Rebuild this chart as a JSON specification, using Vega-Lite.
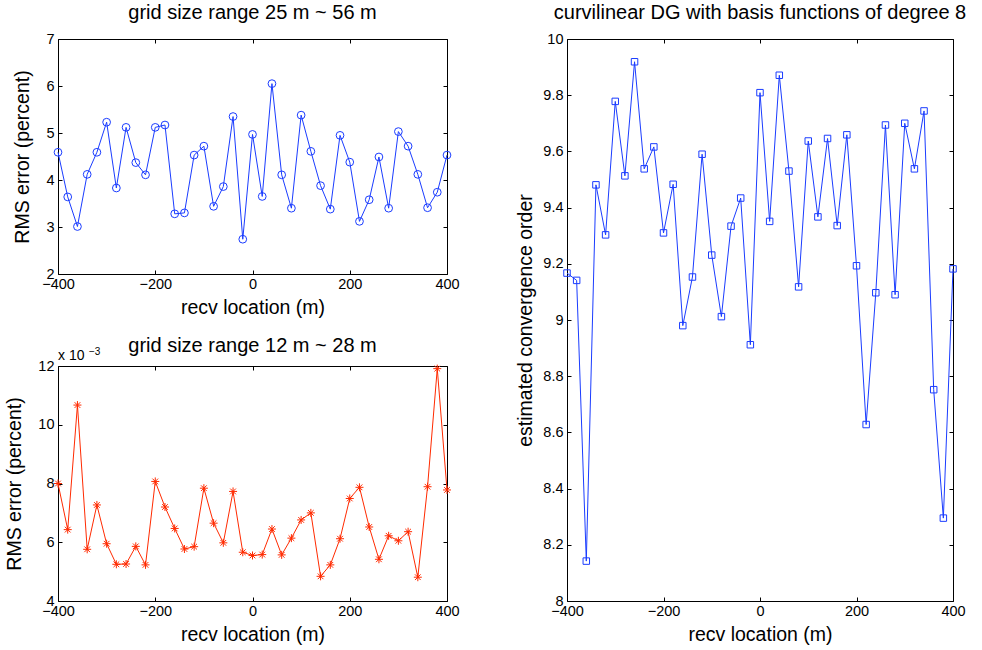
{
  "$schema": "https://vega.github.io/schema/vega-lite/v6.json",
  "autosize": {"type": "pad"},
  "padding": {"left": 4, "top": 2, "right": 5, "bottom": 5},
  "background": "white",
  "config": {
    "font": "Liberation Sans",
    "view": {"stroke": "black", "strokeWidth": 1},
    "axis": {
      "grid": false, "domain": false,
      "tickColor": "black", "tickSize": -4, "tickWidth": 1,
      "labelColor": "black", "labelFontSize": 14.5, "labelPadding": 8,
      "labelFlush": false, "labelOverlap": false,
      "titleColor": "black", "titleFontSize": 19.5, "titleFontWeight": "normal"
    },
    "title": {"fontSize": 20, "fontWeight": "normal", "color": "black", "offset": 8}
  },
  "datasets": {
    "grid25": [
      {"x": -400, "rms": 4.59}, {"x": -380, "rms": 3.64}, {"x": -360, "rms": 3.01}, {"x": -340, "rms": 4.12},
      {"x": -320, "rms": 4.59}, {"x": -300, "rms": 5.23}, {"x": -280, "rms": 3.83}, {"x": -260, "rms": 5.12},
      {"x": -240, "rms": 4.37}, {"x": -220, "rms": 4.11}, {"x": -200, "rms": 5.12}, {"x": -180, "rms": 5.17},
      {"x": -160, "rms": 3.28}, {"x": -140, "rms": 3.30}, {"x": -120, "rms": 4.53}, {"x": -100, "rms": 4.72},
      {"x": -80, "rms": 3.44}, {"x": -60, "rms": 3.86}, {"x": -40, "rms": 5.35}, {"x": -20, "rms": 2.74},
      {"x": 0, "rms": 4.97}, {"x": 20, "rms": 3.65}, {"x": 40, "rms": 6.05}, {"x": 60, "rms": 4.11},
      {"x": 80, "rms": 3.40}, {"x": 100, "rms": 5.38}, {"x": 120, "rms": 4.61}, {"x": 140, "rms": 3.88},
      {"x": 160, "rms": 3.38}, {"x": 180, "rms": 4.95}, {"x": 200, "rms": 4.38}, {"x": 220, "rms": 3.12},
      {"x": 240, "rms": 3.58}, {"x": 260, "rms": 4.49}, {"x": 280, "rms": 3.40}, {"x": 300, "rms": 5.03},
      {"x": 320, "rms": 4.72}, {"x": 340, "rms": 4.12}, {"x": 360, "rms": 3.41}, {"x": 380, "rms": 3.74},
      {"x": 400, "rms": 4.53}
    ],
    "grid12": [
      {"x": -400, "rms_e3": 8.00}, {"x": -380, "rms_e3": 6.43}, {"x": -360, "rms_e3": 10.67}, {"x": -340, "rms_e3": 5.76},
      {"x": -320, "rms_e3": 7.27}, {"x": -300, "rms_e3": 5.95}, {"x": -280, "rms_e3": 5.25}, {"x": -260, "rms_e3": 5.26},
      {"x": -240, "rms_e3": 5.86}, {"x": -220, "rms_e3": 5.23}, {"x": -200, "rms_e3": 8.07}, {"x": -180, "rms_e3": 7.20},
      {"x": -160, "rms_e3": 6.47}, {"x": -140, "rms_e3": 5.77}, {"x": -120, "rms_e3": 5.85}, {"x": -100, "rms_e3": 7.84},
      {"x": -80, "rms_e3": 6.65}, {"x": -60, "rms_e3": 5.98}, {"x": -40, "rms_e3": 7.73}, {"x": -20, "rms_e3": 5.66},
      {"x": 0, "rms_e3": 5.55}, {"x": 20, "rms_e3": 5.58}, {"x": 40, "rms_e3": 6.45}, {"x": 60, "rms_e3": 5.57},
      {"x": 80, "rms_e3": 6.14}, {"x": 100, "rms_e3": 6.76}, {"x": 120, "rms_e3": 7.00}, {"x": 140, "rms_e3": 4.84},
      {"x": 160, "rms_e3": 5.23}, {"x": 180, "rms_e3": 6.12}, {"x": 200, "rms_e3": 7.49}, {"x": 220, "rms_e3": 7.87},
      {"x": 240, "rms_e3": 6.52}, {"x": 260, "rms_e3": 5.42}, {"x": 280, "rms_e3": 6.22}, {"x": 300, "rms_e3": 6.05},
      {"x": 320, "rms_e3": 6.36}, {"x": 340, "rms_e3": 4.81}, {"x": 360, "rms_e3": 7.89}, {"x": 380, "rms_e3": 11.91},
      {"x": 400, "rms_e3": 7.78}
    ],
    "conv": [
      {"x": -400, "order": 9.167}, {"x": -380, "order": 9.141}, {"x": -360, "order": 8.142}, {"x": -340, "order": 9.481},
      {"x": -320, "order": 9.303}, {"x": -300, "order": 9.778}, {"x": -280, "order": 9.513}, {"x": -260, "order": 9.919},
      {"x": -240, "order": 9.538}, {"x": -220, "order": 9.616}, {"x": -200, "order": 9.310}, {"x": -180, "order": 9.483},
      {"x": -160, "order": 8.980}, {"x": -140, "order": 9.153}, {"x": -120, "order": 9.590}, {"x": -100, "order": 9.231},
      {"x": -80, "order": 9.012}, {"x": -60, "order": 9.334}, {"x": -40, "order": 9.434}, {"x": -20, "order": 8.912},
      {"x": 0, "order": 9.809}, {"x": 20, "order": 9.351}, {"x": 40, "order": 9.871}, {"x": 60, "order": 9.530},
      {"x": 80, "order": 9.118}, {"x": 100, "order": 9.637}, {"x": 120, "order": 9.367}, {"x": 140, "order": 9.646},
      {"x": 160, "order": 9.336}, {"x": 180, "order": 9.659}, {"x": 200, "order": 9.193}, {"x": 220, "order": 8.628},
      {"x": 240, "order": 9.097}, {"x": 260, "order": 9.694}, {"x": 280, "order": 9.090}, {"x": 300, "order": 9.700},
      {"x": 320, "order": 9.538}, {"x": 340, "order": 9.744}, {"x": 360, "order": 8.752}, {"x": 380, "order": 8.295},
      {"x": 400, "order": 9.182}
    ]
  },
  "spacing": 55,
  "hconcat": [
    {
      "bounds": "flush",
      "spacing": 92,
      "vconcat": [
        {
          "width": 389, "height": 235,
          "title": "grid size range 25 m ~ 56 m",
          "data": {"name": "grid25"},
          "layer": [
            {
              "mark": {"type": "line", "color": "#1a3cff", "strokeWidth": 1},
              "encoding": {
                "x": {"field": "x", "type": "quantitative", "scale": {"domain": [-400, 400], "nice": false},
                      "axis": {"values": [-400, -200, 0, 200, 400], "title": "recv location (m)", "labelPadding": 7, "titlePadding": 8}},
                "y": {"field": "rms", "type": "quantitative", "scale": {"domain": [2, 7], "nice": false, "zero": false},
                      "axis": {"values": [2, 3, 4, 5, 6, 7], "title": "RMS error (percent)", "titlePadding": 13}}
              }
            },
            {
              "mark": {"type": "point", "shape": "circle", "filled": false, "color": "#1a3cff", "size": 60, "strokeWidth": 1, "opacity": 1},
              "encoding": {
                "x": {"field": "x", "type": "quantitative", "axis": {"orient": "top", "values": [-400, -200, 0, 200, 400], "labels": false, "title": null}},
                "y": {"field": "rms", "type": "quantitative", "axis": {"orient": "right", "values": [2, 3, 4, 5, 6, 7], "labels": false, "title": null}}
              }
            }
          ],
          "resolve": {"axis": {"x": "independent", "y": "independent"}}
        },
        {
          "width": 389, "height": 235,
          "title": {"text": "grid size range 12 m ~ 28 m", "offset": -9},
          "data": {"name": "grid12"},
          "layer": [
            {
              "mark": {"type": "line", "color": "#ff2a00", "strokeWidth": 1},
              "encoding": {
                "x": {"field": "x", "type": "quantitative", "scale": {"domain": [-400, 400], "nice": false},
                      "axis": {"values": [-400, -200, 0, 200, 400], "title": "recv location (m)", "labelPadding": 7, "titlePadding": 8}},
                "y": {"field": "rms_e3", "type": "quantitative", "scale": {"domain": [4, 12], "nice": false, "zero": false},
                      "axis": {"values": [4, 6, 8, 10, 12], "title": "RMS error (percent)", "titlePadding": 13}}
              }
            },
            {
              "mark": {"type": "point", "shape": "M-1,0L1,0M0,-1L0,1M-0.71,-0.71L0.71,0.71M-0.71,0.71L0.71,-0.71", "filled": false, "color": "#ff2a00", "size": 64, "strokeWidth": 1, "opacity": 1},
              "encoding": {
                "x": {"field": "x", "type": "quantitative", "axis": {"orient": "top", "values": [-400, -200, 0, 200, 400], "labels": false, "title": null}},
                "y": {"field": "rms_e3", "type": "quantitative", "axis": {"orient": "right", "values": [4, 6, 8, 10, 12], "labels": false, "title": null}}
              }
            },
            {
              "data": {"values": [{"label": "x 10", "x": -400, "v": 12}]},
              "mark": {"type": "text", "align": "left", "baseline": "bottom", "fontSize": 14, "color": "black", "dy": -3},
              "encoding": {
                "x": {"field": "x", "type": "quantitative", "axis": null},
                "y": {"field": "v", "type": "quantitative", "axis": null},
                "text": {"field": "label"}
              }
            },
            {
              "data": {"values": [{"label": "−3", "x": -400, "v": 12}]},
              "mark": {"type": "text", "align": "left", "baseline": "bottom", "fontSize": 10, "color": "black", "dx": 31, "dy": -9},
              "encoding": {
                "x": {"field": "x", "type": "quantitative", "axis": null},
                "y": {"field": "v", "type": "quantitative", "axis": null},
                "text": {"field": "label"}
              }
            }
          ],
          "resolve": {"axis": {"x": "independent", "y": "independent"}}
        }
      ]
    },
    {
      "width": 386, "height": 562,
      "title": "curvilinear DG with basis functions of degree 8",
      "data": {"name": "conv"},
      "layer": [
        {
          "mark": {"type": "line", "color": "#1a3cff", "strokeWidth": 1},
          "encoding": {
            "x": {"field": "x", "type": "quantitative", "scale": {"domain": [-400, 400], "nice": false},
                  "axis": {"values": [-400, -200, 0, 200, 400], "title": "recv location (m)", "labelPadding": 7, "titlePadding": 8}},
            "y": {"field": "order", "type": "quantitative", "scale": {"domain": [8, 10], "nice": false, "zero": false},
                  "axis": {"values": [8, 8.2, 8.4, 8.6, 8.8, 9, 9.2, 9.4, 9.6, 9.8, 10], "format": "~g", "title": "estimated convergence order", "titlePadding": 7}}
          }
        },
        {
          "mark": {"type": "point", "shape": "square", "filled": false, "color": "#1a3cff", "size": 42, "strokeWidth": 1, "opacity": 1},
          "encoding": {
            "x": {"field": "x", "type": "quantitative", "axis": {"orient": "top", "values": [-400, -200, 0, 200, 400], "labels": false, "title": null}},
            "y": {"field": "order", "type": "quantitative", "axis": {"orient": "right", "values": [8, 8.2, 8.4, 8.6, 8.8, 9, 9.2, 9.4, 9.6, 9.8, 10], "labels": false, "title": null}}
          }
        }
      ],
      "resolve": {"axis": {"x": "independent", "y": "independent"}}
    }
  ]
}
